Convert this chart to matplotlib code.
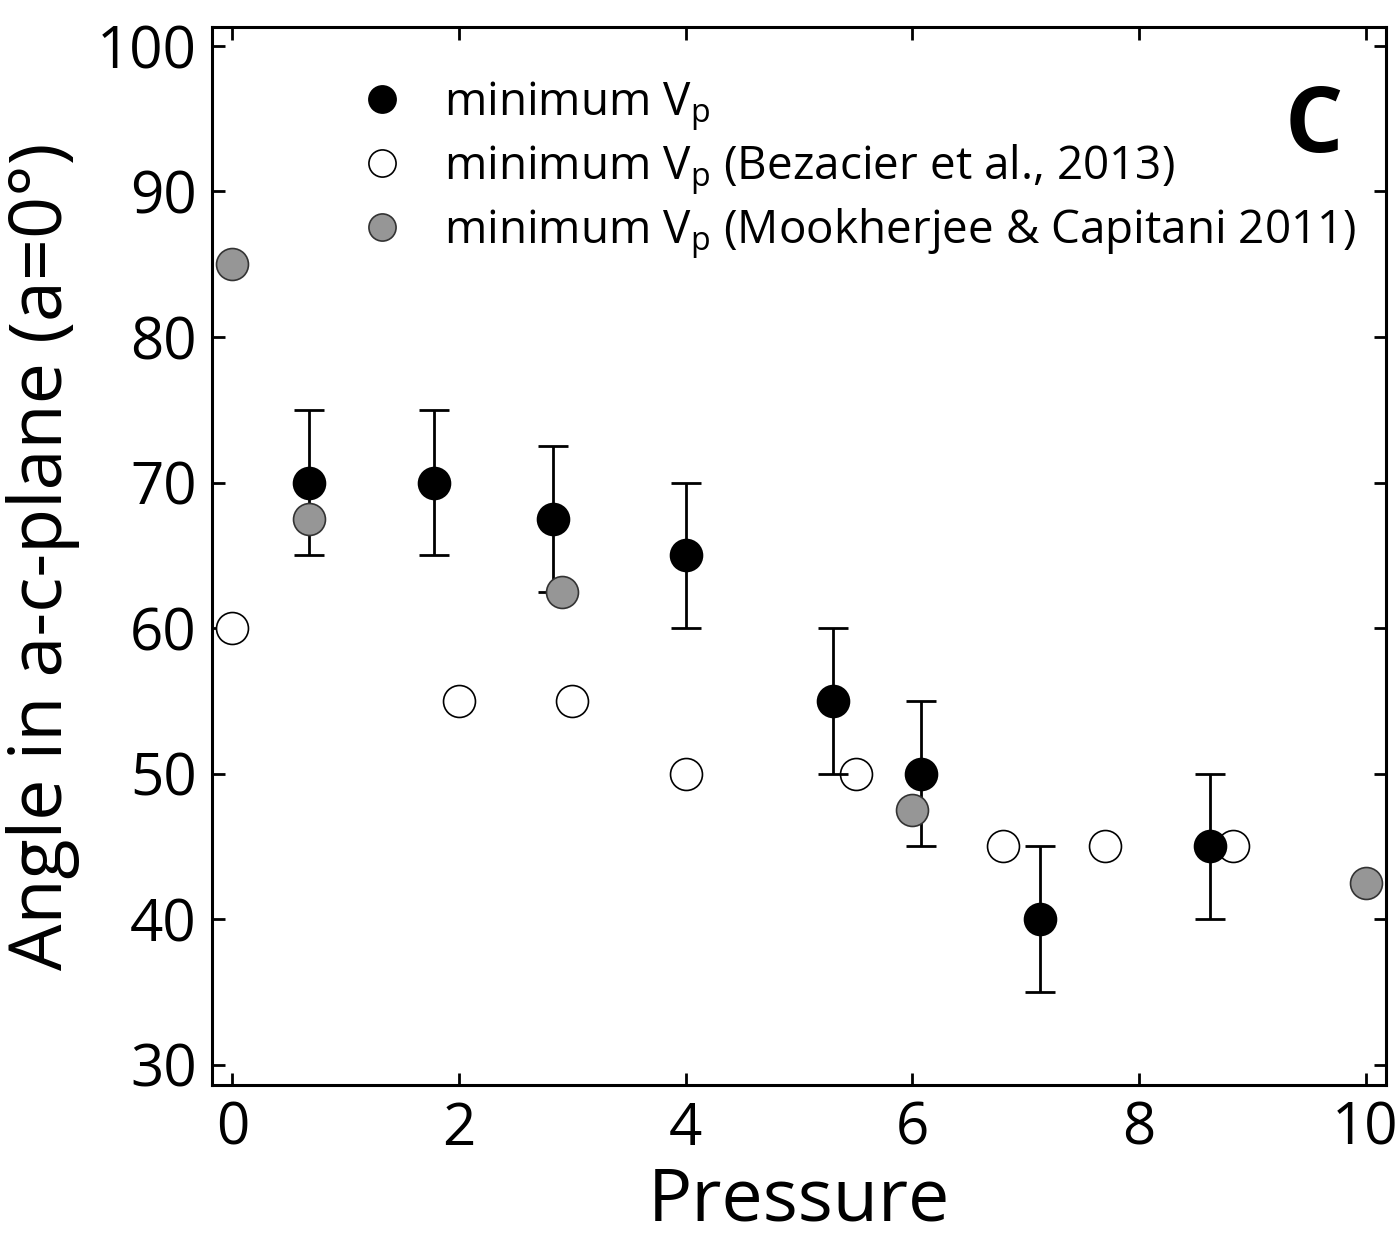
import matplotlib
matplotlib.use("Agg")
import matplotlib.pyplot as plt

plt.rcParams['font.family'] = ['Open Sans', 'DejaVu Sans']
plt.rcParams['mathtext.fontset'] = 'custom'
plt.rcParams['mathtext.rm'] = 'Open Sans'
plt.rcParams['mathtext.it'] = 'Open Sans'

# Data
black_p = [0.68, 1.78, 2.83, 4.0, 5.3, 6.08, 7.13, 8.63]
black_a = [70, 70, 67.5, 65, 55, 50, 40, 45]
black_err = [5, 5, 5, 5, 5, 5, 5, 5]

open_p = [0.0, 2.0, 3.0, 4.0, 5.5, 6.8, 7.7, 8.83]
open_a = [60, 55, 55, 50, 50, 45, 45, 45]

gray_p = [0.0, 0.68, 2.91, 6.0, 10.0]
gray_a = [85, 67.5, 62.5, 47.5, 42.5]

labels = [r'minimum V$_\mathregular{p}$',
          r'minimum V$_\mathregular{p}$ (Bezacier et al., 2013)',
          r'minimum V$_\mathregular{p}$ (Mookherjee & Capitani 2011)']

xticks = [0, 2, 4, 6, 8, 10]
yticks = [30, 40, 50, 60, 70, 80, 90, 100]

fig = plt.figure(figsize=(13.98, 12.44), dpi=100)
ax = fig.add_axes([0.1516, 0.1278, 0.8398, 0.8505])

ms = 23
h_open, = ax.plot(open_p, open_a, 'o', ms=ms, mfc='white', mec='black', mew=1.2,
                  zorder=3, label=labels[1])
ax.errorbar(black_p, black_a, yerr=black_err, fmt='none', ecolor='black',
            elinewidth=2, capsize=11, capthick=2, zorder=4)
h_black, = ax.plot(black_p, black_a, 'o', ms=ms, mfc='black', mec='black', mew=1.2,
                   zorder=5, label=labels[0])
h_gray, = ax.plot(gray_p, gray_a, 'o', ms=ms, mfc='#969696', mec='#333333', mew=1.2,
                  zorder=6, label=labels[2])

ax.set_xlim(-0.18, 10.18)
ax.set_ylim(28.6, 101.3)
ax.set_xticks(xticks)
ax.set_yticks(yticks)
ax.tick_params(direction='in', length=9, width=2, top=True, right=True,
               labelsize=42, pad=11)
for s in ax.spines.values():
    s.set_linewidth(2.2)

ax.set_xlabel('Pressure', fontsize=53, labelpad=4)
ax.set_ylabel('Angle in a-c-plane (a=0°)', fontsize=53, labelpad=12)

leg = ax.legend(handles=[h_black, h_open, h_gray], loc='upper left',
                bbox_to_anchor=(0.09, 0.99), frameon=False, fontsize=33,
                handletextpad=0.85, labelspacing=0.2, markerscale=0.85,
                handlelength=1.0)

ax.text(0.963, 0.948, 'C', transform=ax.transAxes, fontsize=66, fontweight='bold',
        ha='right', va='top')

fig.savefig('out.png', dpi=100)
